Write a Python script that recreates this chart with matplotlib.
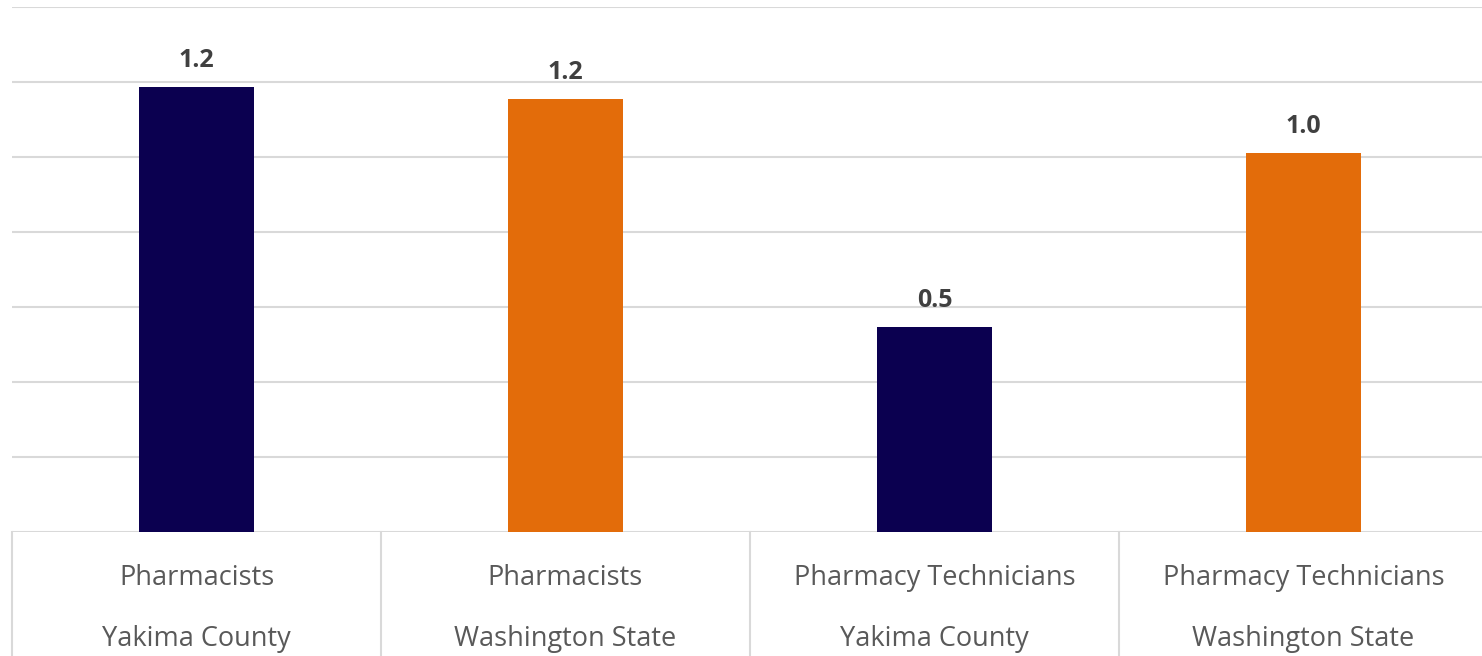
import matplotlib.pyplot as plt
import matplotlib.transforms as mtransforms

jobs = ["Pharmacists", "Pharmacists", "Pharmacy Technicians", "Pharmacy Technicians"]
places = ["Yakima County", "Washington State", "Yakima County", "Washington State"]
values = [1.187, 1.155, 0.547, 1.01]
labels = ["1.2", "1.2", "0.5", "1.0"]
colors = ["#0B0050", "#E36C0A", "#0B0050", "#E36C0A"]
yticks = [0, 0.2, 0.4, 0.6, 0.8, 1.0, 1.2, 1.4]

plt.rcParams["font.family"] = ["Open Sans", "DejaVu Sans"]

W, H = 1482, 656
fig = plt.figure(figsize=(W / 100, H / 100), dpi=100)
left, right, top, bottom = 12, 1488, 7, 532
ax = fig.add_axes([left / W, 1 - bottom / H, (right - left) / W, (bottom - top) / H])

x = range(len(values))
ax.bar(x, values, width=0.314, color=colors, zorder=3)
for xi, v, lab in zip(x, values, labels):
    ax.annotate(lab, (xi, v), xytext=(0, 10), textcoords="offset points",
                ha="center", va="bottom", fontsize=18, fontweight="bold",
                color="#404040")

ax.set_xlim(-0.5, 3.5)
ax.set_ylim(0, 1.4)
ax.set_yticks(yticks)
ax.yaxis.grid(True, color="#D9D9D9", linewidth=1.5, zorder=0)
ax.set_axisbelow(True)
for s in ax.spines.values():
    s.set_visible(False)
ax.tick_params(left=False, bottom=False, labelleft=False, labelbottom=False)

# category boxes below the axis
trans = mtransforms.blended_transform_factory(ax.transData, ax.transAxes)
for sep in [-0.5, 0.5, 1.5, 2.5]:
    ax.plot([sep, sep], [0, -0.3], transform=trans, color="#D9D9D9",
            linewidth=1.5, clip_on=False)
for xi, job, place in zip(x, jobs, places):
    ax.text(xi, -0.087, job, transform=trans, ha="center", va="center",
            fontsize=19.5, color="#595959")
    ax.text(xi, -0.203, place, transform=trans, ha="center", va="center",
            fontsize=19.5, color="#595959")

fig.savefig("out.png", dpi=100)
